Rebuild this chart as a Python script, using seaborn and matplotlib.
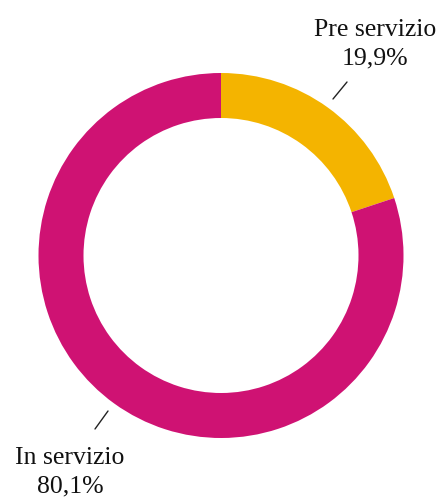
import matplotlib
matplotlib.use("Agg")
import matplotlib.pyplot as plt
import seaborn as sns

categories = ["Pre servizio", "In servizio"]
shares = [19.9, 80.1]
colors = ["#F4B400", "#CF1273"]

sns.set_theme(style="white")
plt.rcParams["font.family"] = ["Liberation Serif", "DejaVu Serif"]

W, H = 441, 500
fig = plt.figure(figsize=(W / 100, H / 100), dpi=100)
ax = fig.add_axes([0, 0, 1, 1])

cx, cy, r_out = 221, H - 255.5, 182.5
ax.pie(shares, colors=colors, startangle=90, counterclock=False,
       center=(cx, cy), radius=r_out, frame=True,
       wedgeprops=dict(width=45, linewidth=0))
ax.set_xlim(0, W)
ax.set_ylim(0, H)
ax.set_aspect("equal")
ax.axis("off")

def fmt(v):
    return f"{v:.1f}".replace(".", ",") + "%"

# label positions and leader lines (pixel space, y from top)
label_pos = [(375, 44), (70, 472)]
leaders = [((333, 99), (347, 82)), ((95, 429), (108, 411))]

for name, v, (lx, ly), ((x0, y0), (x1, y1)) in zip(categories, shares, label_pos, leaders):
    ax.text(lx, H - ly, f"{name}\n{fmt(v)}", ha="center", va="center",
            fontsize=18.5, color="#111111", linespacing=1.38)
    ax.plot([x0, x1], [H - y0, H - y1], color="#222222", lw=1.0)

fig.savefig("out.png", dpi=100, facecolor="white")
